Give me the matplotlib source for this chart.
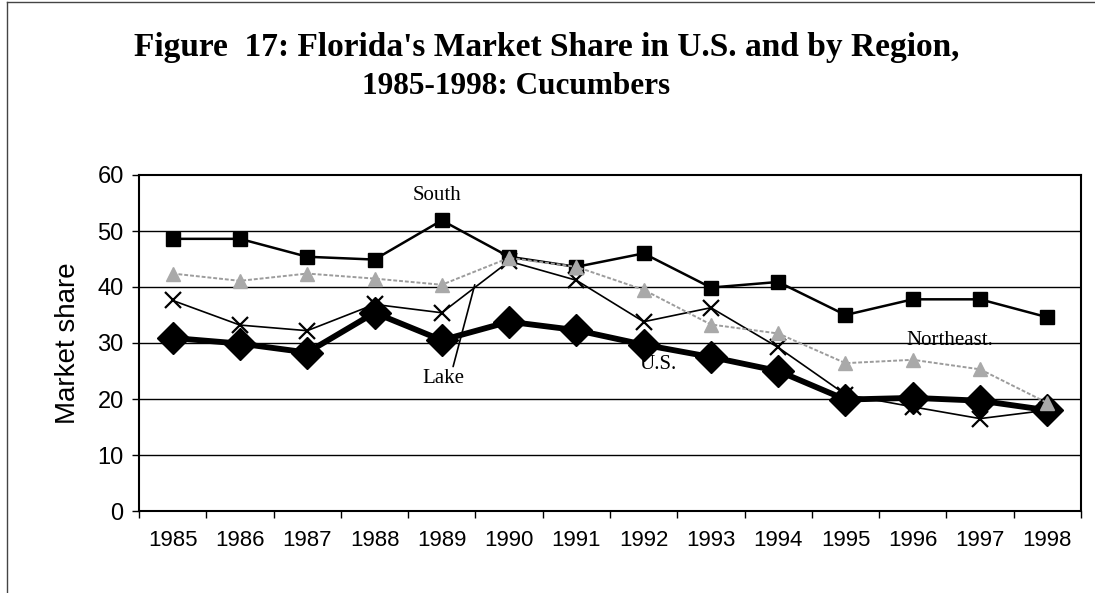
import matplotlib
matplotlib.use("Agg")
import matplotlib.pyplot as plt
from matplotlib.lines import Line2D

years = ["1985", "1986", "1987", "1988", "1989", "1990", "1991",
         "1992", "1993", "1994", "1995", "1996", "1997", "1998"]
south = [48.6, 48.6, 45.4, 44.9, 51.9, 45.4, 43.6, 46.0, 39.9, 40.9, 35.0, 37.8, 37.8, 34.6]
northeast = [42.4, 41.1, 42.4, 41.5, 40.4, 45.2, 43.6, 39.5, 33.3, 31.7, 26.4, 27.0, 25.3, 19.3]
lake = [37.6, 33.2, 32.2, 36.9, 35.4, 44.6, 41.2, 33.8, 36.3, 29.2, 20.8, 18.6, 16.5, 18.0]
us = [30.9, 29.9, 28.3, 35.4, 30.5, 33.8, 32.3, 29.7, 27.5, 25.0, 19.9, 20.2, 19.7, 18.0]
yticks = [0, 10, 20, 30, 40, 50, 60]

W, H = 1095, 593
fig = plt.figure(figsize=(W / 100, H / 100), dpi=100)
fig.patch.set_facecolor("white")

L, R, T, B = 139, 1081, 175, 511
ax = fig.add_axes([L / W, 1 - B / H, (R - L) / W, (B - T) / H])
x = list(range(len(years)))

ax.plot(x, us, color="black", lw=4.2, marker="D", markersize=16,
        markerfacecolor="black", markeredgecolor="black", zorder=3)
ax.plot(x, south, color="black", lw=1.8, marker="s", markersize=10.5,
        markerfacecolor="black", markeredgecolor="black", zorder=4)
ax.plot(x, lake, color="black", lw=1.2, marker="x", markersize=12,
        markeredgewidth=1.6, zorder=5)
ax.plot(x, northeast, color="#9c9c9c", lw=1.4, linestyle=(0, (2, 1)),
        marker="^", markersize=10, markerfacecolor="#a9a9a9",
        markeredgecolor="#a9a9a9", zorder=6)

ax.set_xlim(-0.5, len(years) - 0.5)
ax.set_ylim(0, 60)
ax.set_yticks(yticks)
ax.set_yticklabels([str(v) for v in yticks])
ax.set_xticks(x)
ax.set_xticklabels(years)
ax.set_xticks([i - 0.5 for i in range(len(years) + 1)], minor=True)
ax.tick_params(axis="x", which="major", length=0, pad=14,
               labelsize=16, labelfontfamily="Liberation Sans")
ax.tick_params(axis="x", which="minor", length=5, width=1, direction="out")
ax.tick_params(axis="y", length=5, width=1, direction="out", pad=6,
               labelsize=17, labelfontfamily="Liberation Sans")
for yv in yticks[1:-1]:
    ax.axhline(yv, color="black", lw=1.0, zorder=1)
for s in ax.spines.values():
    s.set_linewidth(1.5)
    s.set_color("black")

ax.set_ylabel("Market share", fontsize=20, family="Liberation Sans", labelpad=12)

ann_font = dict(family="Liberation Serif", fontsize=15, color="black")
ax.text(3.93, 56.4, "South", ha="center", va="center", **ann_font)
ax.text(7.21, 26.1, "U.S.", ha="center", va="center", **ann_font)
ax.text(11.55, 30.5, "Northeast.", ha="center", va="center", **ann_font)
ax.annotate("Lake", xy=(4.49, 40.4), xytext=(4.02, 23.6),
            ha="center", va="center", **ann_font,
            arrowprops=dict(arrowstyle="-", color="black", lw=1.2,
                            relpos=(0.72, 1.0), shrinkA=0, shrinkB=0))

fig.text(547 / W, 1 - 56 / H, "Figure  17: Florida's Market Share in U.S. and by Region,",
         ha="center", va="baseline", family="Liberation Serif",
         fontweight="bold", fontsize=24)
fig.text(516 / W, 1 - 94 / H, "1985-1998: Cucumbers",
         ha="center", va="baseline", family="Liberation Serif",
         fontweight="bold", fontsize=22.5)

fig.add_artist(Line2D([7 / W, 7 / W], [0, 1 - 2 / H], transform=fig.transFigure,
                      color="#444444", lw=1.0))
fig.add_artist(Line2D([7 / W, 1], [1 - 2 / H, 1 - 2 / H], transform=fig.transFigure,
                      color="#444444", lw=1.0))

fig.savefig("out.png", dpi=100)
